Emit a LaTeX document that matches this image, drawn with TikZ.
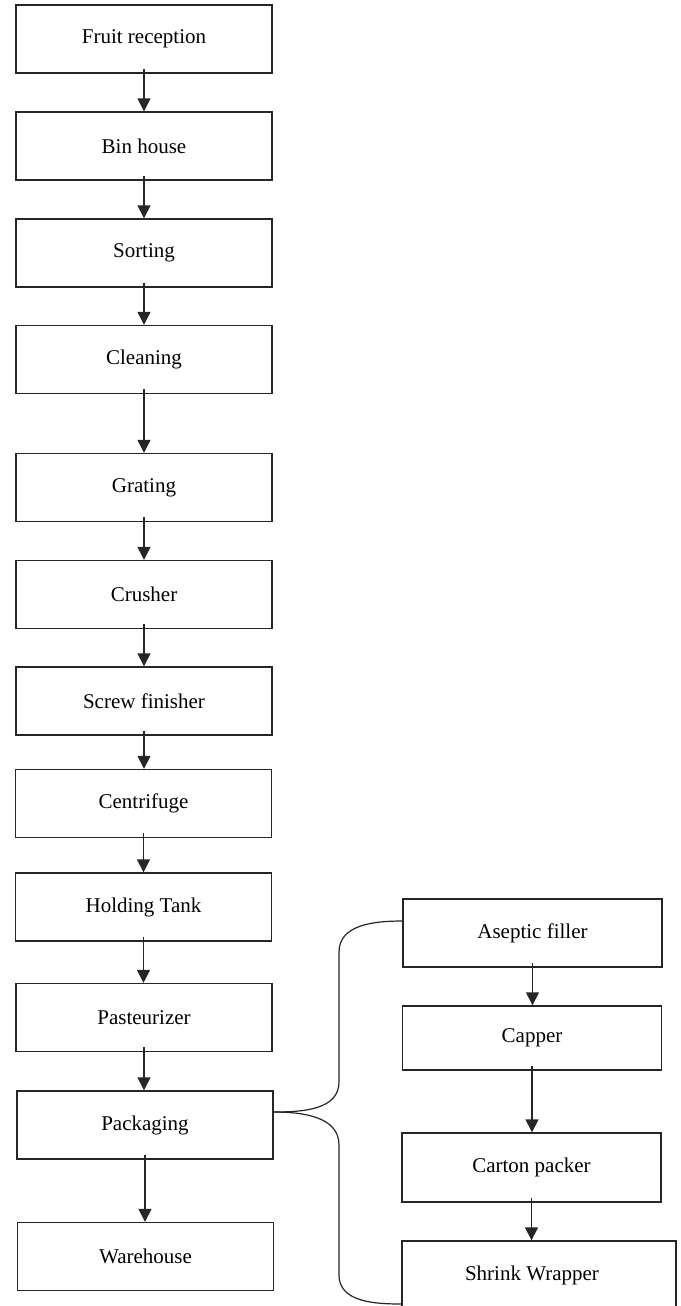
\documentclass[tikz,border=0pt]{standalone}
\usepackage{fontspec}
\setmainfont{Liberation Serif}
\usetikzlibrary{arrows.meta}
\begin{document}
\begin{tikzpicture}[x=1pt,y=-1pt,
  stepbox/.style={draw=black!85,line width=1.4pt,minimum width=256pt,minimum height=68pt,inner sep=0pt,font=\fontsize{21}{24}\selectfont,fill=white},
  arr/.style={draw=black!85,line width=1.4pt,-{Triangle[width=13pt,length=13pt]}},
  brace/.style={draw=black!85,line width=1.2pt}]
\clip (0,0) rectangle (680,1306);
\fill[white] (0,0) rectangle (680,1306);
% left column
\node[stepbox] (n1) at (144,39) {Fruit reception};
\node[stepbox] (n2) at (144,146) {Bin house};
\node[stepbox] (n3) at (144,253) {Sorting};
\node[stepbox] (n4) at (144,359.5) {Cleaning};
\node[stepbox] (n5) at (144,487.5) {Grating};
\node[stepbox] (n6) at (144,594.5) {Crusher};
\node[stepbox] (n7) at (144,701) {Screw finisher};
\node[stepbox] (n8) at (143.5,803.5) {Centrifuge};
\node[stepbox] (n9) at (143.5,907) {Holding Tank};
\node[stepbox] (n10) at (144,1017.5) {Pasteurizer};
\node[stepbox] (n11) at (145,1125) {Packaging};
\node[stepbox] (n12) at (145.5,1256.5) {Warehouse};
% right column
\node[stepbox,minimum width=259pt] (r1) at (532.5,933) {Aseptic filler};
\node[stepbox,minimum width=259pt,minimum height=64pt] (r2) at (532,1038) {Capper};
\node[stepbox,minimum width=259pt,minimum height=69pt] (r3) at (531.5,1167.5) {Carton packer};
\node[stepbox,minimum width=274pt] (r4) at (539,1275) {\hspace*{-14pt}Shrink Wrapper};
% arrows
\foreach \a/\b in {n1/n2,n2/n3,n3/n4,n4/n5,n5/n6,n6/n7,n7/n8,n8/n9,n9/n10,n10/n11,n11/n12}{
  \draw[arr] ([yshift=5pt]\a.south) -- (\a.south |- \b.north);
}
\foreach \a/\b in {r1/r2,r2/r3,r3/r4}{
  \draw[arr] ([yshift=5pt]\a.south) -- (\a.south |- \b.north);
}
% brace
\coordinate (bp) at ([yshift=13pt]n11.east);
\coordinate (up1) at (339,1082);
\coordinate (up2) at (339,952);
\coordinate (lo1) at (339,1145);
\coordinate (lo2) at (339,1275);
\draw[brace] (bp) to[out=0,in=-90] (up1) -- (up2) to[out=90,in=180] ([yshift=12pt]r1.west);
\draw[brace] (bp) to[out=0,in=90] (lo1) -- (lo2) to[out=-90,in=180] ([yshift=-29pt]r4.west);
\end{tikzpicture}
\end{document}
